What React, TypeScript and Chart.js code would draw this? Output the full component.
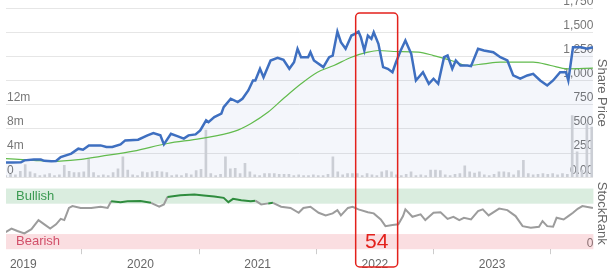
import React, { useEffect, useRef } from 'react';
import { Chart, registerables } from 'chart.js';

Chart.register(...registerables);

// ---- data ----
const X_MIN = 2018.853;
const X_MAX = 2023.864;
const yearTicks = [2019, 2020, 2021, 2022, 2023];

const priceDates = [
  2018.85, 2018.91, 2018.98, 2019.01, 2019.09, 2019.15, 2019.18, 2019.24, 2019.28, 2019.32,
  2019.41, 2019.47, 2019.51, 2019.56, 2019.66, 2019.71, 2019.76, 2019.83, 2019.87, 2019.98,
  2020.06, 2020.11, 2020.17, 2020.2, 2020.26, 2020.32, 2020.37, 2020.41, 2020.47, 2020.51,
  2020.56, 2020.58, 2020.63, 2020.69, 2020.71, 2020.77, 2020.83, 2020.87, 2020.92, 2020.96,
  2020.98, 2021.02, 2021.05, 2021.11, 2021.17, 2021.22, 2021.27, 2021.31, 2021.34, 2021.37,
  2021.43, 2021.45, 2021.48, 2021.56, 2021.61, 2021.64, 2021.68, 2021.71, 2021.75, 2021.8,
  2021.83, 2021.86, 2021.88, 2021.91, 2021.94, 2021.97, 2021.99, 2022.03, 2022.07, 2022.11,
  2022.15, 2022.18, 2022.22, 2022.26, 2022.31, 2022.35, 2022.41, 2022.46, 2022.5, 2022.54,
  2022.59, 2022.62, 2022.66, 2022.69, 2022.73, 2022.79, 2022.82, 2022.88, 2022.93, 2023.01,
  2023.07, 2023.13, 2023.18, 2023.24, 2023.3, 2023.35, 2023.41, 2023.47, 2023.52, 2023.58,
  2023.63, 2023.65, 2023.69, 2023.76, 2023.81, 2023.86,
];
const priceValues = [
  152, 152, 155, 175, 183, 183, 170, 165, 168, 210,
  245, 296, 286, 330, 330, 313, 313, 341, 382, 389,
  434, 458, 434, 341, 451, 424, 400, 434, 444, 486,
  589, 571, 623, 658, 726, 813, 778, 813, 899, 1002,
  1002, 1123, 1036, 1209, 1237, 1216, 1123, 1191, 1330, 1243,
  1243, 1295, 1209, 1140, 1243, 1260, 1508, 1398, 1330, 1467,
  1484, 1508, 1450, 1312, 1467, 1433, 1501, 1381, 1140, 1123,
  1088, 1191, 1312, 1415, 1278, 1002, 1088, 968, 1020, 968,
  1243, 1260, 1123, 1209, 1157, 1157, 1150, 1330, 1312, 1295,
  1243, 1209, 1054, 1020, 1054, 1071, 1002, 950, 1002, 1088,
  1088, 1002, 1346, 1346, 1330, 1346,
];

const maDates = [
  2018.85, 2019.09, 2019.24, 2019.47, 2019.66, 2019.94, 2020.23, 2020.51, 2020.8, 2020.94,
  2021.09, 2021.22, 2021.37, 2021.51, 2021.65, 2021.8, 2021.94, 2022.03, 2022.16, 2022.37,
  2022.5, 2022.65, 2022.79, 2022.93, 2023.07, 2023.22, 2023.35, 2023.5, 2023.64, 2023.86,
];
const maValues = [
  193, 176, 165, 183, 217, 270, 350, 400, 475, 555,
  675, 815, 968, 1088, 1157, 1243, 1295, 1312, 1302, 1295,
  1260, 1209, 1157, 1174, 1191, 1191, 1191, 1157, 1123, 1130,
];

// volume, one bar per half month starting at volumeStart (millions of shares)
const volumeStart = 2018.85;
const volumeStep = 1 / 24;
const volumeValues = [
  0.3, 0.5, 0.4, 1.0, 2.1, 0.9, 0.6, 0.3, 0.4, 0.6,
  0.3, 0.4, 2.0, 1.0, 0.8, 0.8, 0.9, 3.0, 0.8, 0.3,
  0.4, 0.3, 0.8, 1.4, 3.4, 1.2, 0.4, 0.3, 0.9, 0.8,
  0.9, 1.0, 0.9, 0.8, 0.3, 0.4, 0.3, 0.6, 0.4, 1.1,
  1.3, 7.8, 0.6, 0.3, 0.5, 3.4, 1.4, 1.5, 0.6, 2.3,
  0.9, 0.4, 0.3, 0.6, 0.6, 0.6, 0.5, 0.5, 0.5, 0.3,
  0.4, 0.3, 0.3, 0.4, 0.3, 0.3, 0.5, 3.4, 0.9, 0.4,
  0.6, 0.6, 0.6, 0.3, 0.6, 0.4, 0.3, 0.9, 1.1, 0.9,
  0.4, 0.3, 0.5, 0.9, 0.3, 0.4, 0.3, 1.2, 1.2, 1.1,
  0.4, 0.3, 0.5, 0.6, 1.9, 0.9, 0.7, 0.9, 0.4, 0.3,
  0.5, 0.9, 0.9, 0.8, 0.4, 1.1, 2.8, 0.6, 0.4, 0.5,
  0.6, 0.5, 0.6, 0.4, 0.6, 0.5, 10.2, 4.2, 1.2, 8.9,
  8.3,
];

const rankDates = [
  2018.85, 2018.9, 2018.95, 2019.01, 2019.07, 2019.13, 2019.18, 2019.23, 2019.28, 2019.32,
  2019.35, 2019.36, 2019.39, 2019.42, 2019.49, 2019.58, 2019.66, 2019.72, 2019.75, 2019.83,
  2019.89, 2020.0, 2020.09, 2020.16, 2020.2, 2020.23, 2020.34, 2020.46, 2020.54, 2020.63,
  2020.71, 2020.75, 2020.79, 2020.86, 2020.94, 2020.98, 2021.03, 2021.09, 2021.13, 2021.2,
  2021.28, 2021.35, 2021.39, 2021.45, 2021.52, 2021.58, 2021.64, 2021.68, 2021.71, 2021.77,
  2021.81, 2021.86, 2021.94, 2021.99, 2022.05, 2022.09, 2022.15, 2022.2, 2022.24, 2022.26,
  2022.32, 2022.39, 2022.43, 2022.5, 2022.56, 2022.62, 2022.67, 2022.72, 2022.76, 2022.82,
  2022.88, 2022.92, 2022.97, 2023.06, 2023.13, 2023.2, 2023.26, 2023.33, 2023.4, 2023.43,
  2023.47, 2023.52, 2023.55, 2023.61, 2023.65, 2023.69, 2023.73, 2023.77, 2023.86,
];
const rankValues = [
  28, 34, 30, 26, 33, 48, 41, 34, 41, 50,
  48, 53, 68, 71, 68, 68, 70, 68, 79, 77.5,
  79, 79.5, 76.4, 70, 73.8, 86, 89, 90, 88.5, 87,
  84.6, 77.5, 83, 80.8, 79, 80, 73.8, 75.5, 76.4, 70,
  68, 60, 68, 70, 60, 55.7, 59, 64.4, 55.7, 68,
  70, 65.6, 61, 59, 49, 38, 40, 41, 54.6, 65.6,
  53.4, 57.4, 48, 60, 61, 50, 53.4, 48, 51.8, 49,
  62.8, 65.6, 55.7, 67, 64.4, 54.6, 38, 35.4, 37, 46.4,
  38, 37, 51.8, 49, 54.6, 60, 66.6, 71, 68,
];

const bullishBand = [75, 100];
const bearishBand = [0, 25];
const highlightRange = [2021.836, 2022.194];
const highlightTopPrice = 1700;
const highlightLabel = '54';

const FONT = "'Liberation Sans', Arial, Helvetica, sans-serif";

const overlayPlugin = {
  id: 'overlay',
  beforeDatasetsDraw(chart: any) {
    const { ctx, chartArea: a, scales } = chart;
    const yr = scales.yRank;
    ctx.save();
    const bt = yr.getPixelForValue(bullishBand[1]);
    const bb = yr.getPixelForValue(bullishBand[0]);
    const rt = yr.getPixelForValue(bearishBand[1]);
    const rb = yr.getPixelForValue(bearishBand[0]);
    ctx.fillStyle = 'rgba(70,165,95,0.2)';
    ctx.fillRect(a.left, bt, a.right - a.left, bb - bt);
    ctx.fillStyle = 'rgba(225,70,90,0.18)';
    ctx.fillRect(a.left, rt, a.right - a.left, rb - rt);
    ctx.font = `13px ${FONT}`;
    ctx.textBaseline = 'middle';
    ctx.textAlign = 'left';
    ctx.fillStyle = '#3c9a52';
    ctx.fillText('Bullish', a.left + 10, (bt + bb) / 2);
    ctx.fillStyle = '#d2506a';
    ctx.fillText('Bearish', a.left + 10, (rt + rb) / 2);
    ctx.restore();
  },
  afterDraw(chart: any) {
    const { ctx, scales } = chart;
    const x0 = scales.x.getPixelForValue(highlightRange[0]);
    const x1 = scales.x.getPixelForValue(highlightRange[1]);
    const y0 = scales.yPrice.getPixelForValue(highlightTopPrice);
    const y1 = chart.height - 1;
    ctx.save();
    ctx.strokeStyle = '#e3211c';
    ctx.lineWidth = 1.5;
    ctx.beginPath();
    (ctx as any).roundRect(x0, y0, x1 - x0, y1 - y0, 4);
    ctx.stroke();
    ctx.fillStyle = '#e3211c';
    ctx.font = `21px ${FONT}`;
    ctx.textAlign = 'center';
    ctx.textBaseline = 'alphabetic';
    ctx.fillText(highlightLabel, (x0 + x1) / 2, scales.yRank.getPixelForValue(0) - 1);
    ctx.restore();
  },
};

export default function App() {
  const ref = useRef<HTMLCanvasElement | null>(null);
  useEffect(() => {
    if (!ref.current) return;
    Chart.defaults.font.family = FONT;
    const priceData = priceDates.map((d, i) => ({ x: d, y: priceValues[i] }));
    const maData = maDates.map((d, i) => ({ x: d, y: maValues[i] }));
    const volData = volumeValues.map((v, i) => ({ x: volumeStart + i * volumeStep, y: v * 1e6 }));
    const rankData = rankDates.map((d, i) => ({ x: d, y: rankValues[i] }));
    const chart = new Chart(ref.current, {
      type: 'line',
      data: {
        datasets: [
          {
            type: 'line', data: priceData, yAxisID: 'yPrice', xAxisID: 'x',
            borderColor: '#3e6fc0', borderWidth: 2.5, pointRadius: 0, tension: 0,
            fill: 'origin', backgroundColor: 'rgba(70,100,190,0.06)', order: 0,
          },
          {
            type: 'line', data: maData, yAxisID: 'yPrice', xAxisID: 'x',
            borderColor: '#62bb4d', borderWidth: 1.2, pointRadius: 0,
            cubicInterpolationMode: 'monotone', fill: false, order: 1,
          },
          {
            type: 'bar', data: volData, yAxisID: 'yVol', xAxisID: 'x',
            backgroundColor: '#cbced5', barThickness: 2, order: 2,
          },
          {
            type: 'line', data: rankData, yAxisID: 'yRank', xAxisID: 'x',
            borderColor: '#9c9c9c', borderWidth: 2, pointRadius: 0, tension: 0, fill: false, order: 0,
            segment: {
              borderColor: (c: any) => (c.p0.parsed.y >= 75 && c.p1.parsed.y >= 75 ? '#2f8c3e' : undefined),
            },
          },
        ] as any,
      },
      options: {
        responsive: false,
        animation: false,
        devicePixelRatio: 1,
        layout: { padding: { left: 4, right: 0, top: 7, bottom: -7 } },
        plugins: {
          legend: { display: false },
          tooltip: { enabled: false },
          filler: { drawTime: 'beforeDatasetsDraw' },
        } as any,
        scales: {
          x: {
            type: 'linear', min: X_MIN, max: X_MAX, offset: false,
            afterBuildTicks: (s: any) => { s.ticks = yearTicks.map((v) => ({ value: v })); },
            grid: { drawOnChartArea: false, drawTicks: true, tickLength: 5, color: '#cccccc' },
            border: { display: false },
            ticks: {
              color: '#666', font: { size: 12, lineHeight: 0.9 }, padding: 5,
              maxRotation: 0, autoSkip: false, callback: (v: any) => String(v),
            },
          },
          yPrice: {
            type: 'linear', position: 'right', stack: 'R', stackWeight: 170, weight: 1,
            min: 0, max: 1750,
            ticks: {
              stepSize: 250, mirror: true, padding: 0, labelOffset: -7, color: '#777',
              font: { size: 12 }, autoSkip: false,
              callback: (v: any) => (v === 0 ? '0.00' : Number(v).toLocaleString('en-US')),
            },
            grid: { color: '#e6e6e6', drawTicks: false },
            border: { display: false },
            title: { display: true, text: 'Share Price', color: '#666', font: { size: 13 }, padding: { top: 0, bottom: 0 } },
          },
          yRank: {
            type: 'linear', position: 'right', stack: 'R', stackWeight: 72.3, weight: 2,
            min: 0, max: 118.5,
            ticks: {
              stepSize: 100, mirror: true, padding: 0, labelOffset: -6, color: '#777',
              font: { size: 12 }, autoSkip: false, callback: (v: any) => (v === 0 ? '0' : ''),
            },
            grid: { display: false, drawTicks: false },
            border: { display: false },
            title: { display: true, text: 'StockRank', color: '#666', font: { size: 13 }, padding: { top: 0, bottom: 0 } },
          },
          yVol: {
            type: 'linear', position: 'left', stack: 'L', stackWeight: 170, weight: 2,
            min: 0, max: 28e6,
            ticks: {
              stepSize: 4e6, mirror: true, padding: 1, labelOffset: -7, color: '#777',
              font: { size: 12 }, autoSkip: false,
              callback: (v: any) => (v > 12e6 ? '' : v === 0 ? '0' : `${v / 1e6}m`),
            },
            grid: { display: false, drawTicks: false },
            border: { display: false },
          },
          yRankL: {
            type: 'linear', position: 'left', stack: 'L', stackWeight: 72.3, weight: 1,
            min: 0, max: 118.5, display: false,
          },
        } as any,
      },
      plugins: [overlayPlugin],
    });
    return () => chart.destroy();
  }, []);
  return (
    <div style={{ position: 'fixed', left: 0, top: 0, width: 609, height: 268, background: '#fff' }}>
      <canvas ref={ref} width={609} height={268} style={{ display: 'block' }} />
    </div>
  );
}
